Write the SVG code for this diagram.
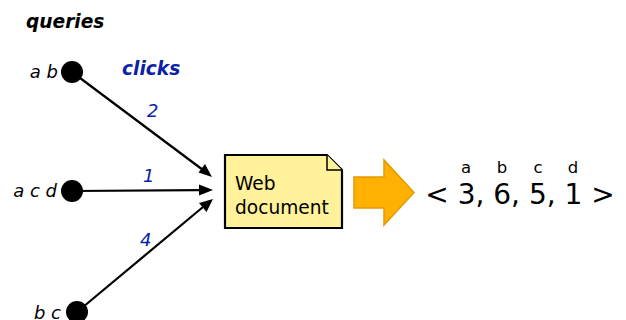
<svg xmlns="http://www.w3.org/2000/svg" width="626" height="320" viewBox="0 0 626 320">
<defs>
<style>
text{font-family:"DejaVu Sans","Liberation Sans",sans-serif}
.q{font-size:18px;font-style:italic;fill:#000}
.hdr{font-size:18.6px;font-style:italic;font-weight:bold}
.lbl{font-size:18px;font-style:italic;fill:#0a22a5}
.edge{stroke:#000;stroke-width:2.2;fill:none}
</style>
</defs>
<rect width="626" height="320" fill="#fff"/>
<text class="hdr" x="26" y="28" fill="#000">queries</text>
<text class="hdr" x="122" y="75" fill="#0a22a5">clicks</text>
<g id="connectors">
<line class="edge" x1="72" y1="72" x2="203" y2="170"/>
<path d="M212,177 L198.5,172.5 L205,164 Z" fill="#000"/>
<line class="edge" x1="72" y1="191" x2="200" y2="190.2"/>
<path d="M213,190 L199,184.5 L199,195.5 Z" fill="#000"/>
<line class="edge" x1="77" y1="312" x2="203" y2="207"/>
<path d="M213,199 L206.5,212 L199,203 Z" fill="#000"/>
<text class="lbl" x="147" y="117">2</text>
<text class="lbl" x="143" y="182">1</text>
<text class="lbl" x="140" y="246">4</text>
</g>
<g id="q1">
<circle cx="72" cy="72" r="11" fill="#000"/>
<text class="q" x="58" y="78" text-anchor="end">a b</text>
</g>
<g id="q2">
<circle cx="72" cy="191" r="11" fill="#000"/>
<text class="q" x="57" y="197" text-anchor="end">a c d</text>
</g>
<g id="q3">
<circle cx="77" cy="312" r="11" fill="#000"/>
<text class="q" x="61" y="319" text-anchor="end">b c</text>
</g>
<g id="doc">
<path d="M225,155 L327,155 L342,170 L342,228 L225,228 Z" fill="#fff29b" stroke="#000" stroke-width="2.2" stroke-linejoin="miter"/>
<path d="M327,155 L327,170 L342,170" fill="#fff29b" stroke="#000" stroke-width="1.5"/>
<text x="235" y="190" font-size="18.6" fill="#000">Web</text>
<text x="235" y="214" font-size="18.6" fill="#000">document</text>
</g>
<g id="bigarrow">
<path d="M354,177 L384,177 L384,160 L414,192.5 L384,225 L384,208 L354,208 Z" fill="#ffb000" stroke="#e39b00" stroke-width="1.5" stroke-linejoin="miter"/>
</g>
<g id="vector">
<text x="466" y="173" font-size="16.5" text-anchor="middle">a</text>
<text x="502" y="173" font-size="16.5" text-anchor="middle">b</text>
<text x="538" y="173" font-size="16.5" text-anchor="middle">c</text>
<text x="573" y="173" font-size="16.5" text-anchor="middle">d</text>
<text x="520" y="204" font-size="28" text-anchor="middle">&lt; 3, 6, 5, 1 &gt;</text>
</g>
</svg>
